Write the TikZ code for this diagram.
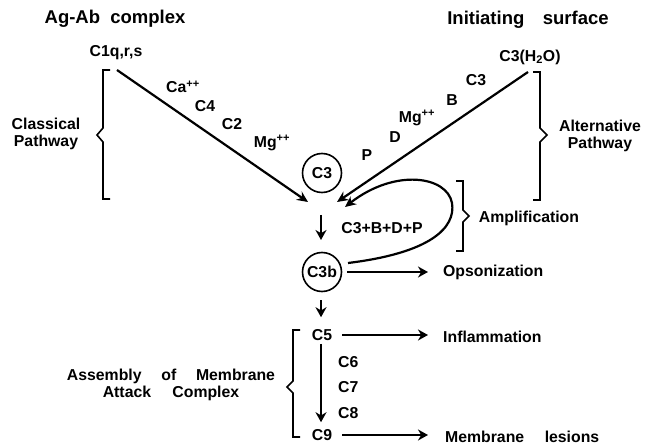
\documentclass[tikz,border=0pt]{standalone}
\usepackage{fontspec}
\setmainfont{Liberation Sans}
\usetikzlibrary{arrows.meta,calc}
\begin{document}
\begin{tikzpicture}[x=1pt,y=-1pt,
  txt/.style={font=\bfseries\fontsize{15.8}{16.5}\selectfont, inner sep=0pt},
  hd/.style={font=\bfseries\fontsize{18.5}{19}\selectfont, inner sep=0pt},
  circ/.style={draw, circle, line width=1.6pt, minimum size=39pt, inner sep=0pt, font=\bfseries\fontsize{15.8}{17}\selectfont},
  arr/.style={line width=2.2pt, -{Stealth[length=11pt,width=10pt]}},
  varr/.style={line width=2.5pt, -{Stealth[length=10pt,width=11pt]}},
  brk/.style={line width=1.6pt},
]
\useasboundingbox (0,0) rectangle (645,446);
% headings
\node[hd] (agab) at (115,19) {Ag-Ab\hspace{0.55em}complex};
\node[hd] (init) at (528,20) {Initiating\hspace{1.0em}surface};
\node[txt] (c1) at (116,53) {C1q,r,s};
\node[txt] (c3h) at (530,57) {C3(H\textsubscript{2}O)};
% pathway labels
\node[txt, align=center] (clp) at (46,134) {Classical\\Pathway};
\node[txt, align=center] (alp) at (600,136) {Alternative\\Pathway};
\node[txt] (amp) at (529,218) {Amplification};
% classical labels
\node[txt] (ca) at (183,87) {Ca\textsuperscript{++}};
\node[txt] (c4) at (205,106) {C4};
\node[txt] (c2) at (232,124) {C2};
\node[txt] (mg1) at (272,143) {Mg\textsuperscript{++}};
% alternative labels
\node[txt] (a3) at (476,80) {C3};
\node[txt] (ab) at (452,100) {B};
\node[txt] (mg2) at (417,118) {Mg\textsuperscript{++}};
\node[txt] (ad) at (395,137) {D};
\node[txt] (ap) at (367,155) {P};
% central column
\node[circ] (c3) at (322,173) {C3};
\node[txt] (sum) at (382,228) {C3+B+D+P};
\node[circ] (c3b) at (322,272) {C3b};
\node[txt, anchor=west] (ops) at (443,272) {Opsonization};
\node[txt] (c5) at (322,335) {C5};
\node[txt, anchor=west] (c6) at (338,362) {C6};
\node[txt, anchor=west] (c7) at (338,387) {C7};
\node[txt, anchor=west] (c8) at (338,413) {C8};
\node[txt] (c9) at (322,435) {C9};
\node[txt, anchor=west] (infl) at (443,337) {Inflammation};
\node[txt, anchor=west] (mem) at (445,437) {Membrane\hspace{1.3em}lesions};
\node[txt, align=center] (mac) at (171,385) {Assembly\hspace{1.25em}of\hspace{1.25em}Membrane\\Attack\hspace{1.35em}Complex};
% connector end points
\coordinate (cls) at (117,70);
\coordinate (cle) at (308,202);
\coordinate (als) at (528,72);
\coordinate (ale) at (337,202);
\coordinate (amps) at (348,263);
\coordinate (ampe) at (345,207);
% connectors
\draw[arr] (cls) -- (cle);
\draw[arr] (als) -- (ale);
\draw[arr] (amps) .. controls (430,253) and (456,228) .. (452,203) .. controls (447,176) and (395,168) .. (ampe);
\draw[varr] (321,215) -- (321,240);
\draw[line width=2.8pt, -{Stealth[length=10pt,width=11pt]}] (347,272) -- (428,272);
\draw[varr] ($(c3b.south)+(-1,8)$) -- ($(c5.north)+(-1,-12)$);
\draw[varr] ($(c5.south)+(-1,3)$) -- ($(c9.north)+(-1,-7)$);
\draw[varr] (342,335) -- (428,335);
\draw[varr] (342,435) -- (428,435);
% brackets
\draw[brk] (110,70) -- (103,70) -- (103,128) -- (97,135) -- (103,142) -- (103,199) -- (110,199);
\draw[brk] (533,72) -- (540,72) -- (540,128) -- (547,135) -- (540,142) -- (540,200) -- (533,200);
\draw[brk] (456,181) -- (463,181) -- (463,210) -- (469,216) -- (463,222) -- (463,251) -- (456,251);
\draw[brk] (300,330) -- (293,330) -- (293,381) -- (287,387) -- (293,393) -- (293,437) -- (300,437);
\end{tikzpicture}
\end{document}
